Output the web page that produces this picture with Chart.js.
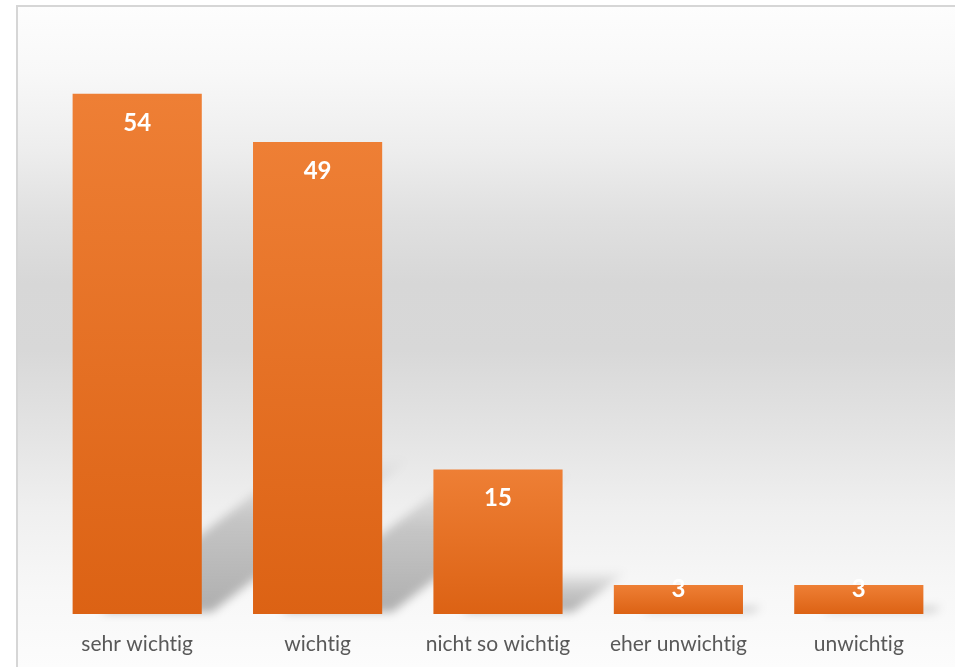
<!DOCTYPE html>
<html>
<head>
<meta charset="utf-8">
<script src="https://cdn.jsdelivr.net/npm/chart.js@4"></script>
<style>
  html, body { margin: 0; padding: 0; background: #ffffff; }
  #wrap { width: 955px; height: 667px; position: relative; }
</style>
</head>
<body>
<div id="wrap"><canvas id="c" width="955" height="667"></canvas></div>
<script>
const categories = ["sehr wichtig", "wichtig", "nicht so wichtig", "eher unwichtig", "unwichtig"];
const values = [54, 49, 15, 3, 3];
const yMin = 0;
const yMax = 60;

const backgroundPlugin = {
  id: 'bgPlugin',
  beforeDraw(chart) {
    const ctx = chart.ctx;
    const W = chart.width, H = chart.height;
    ctx.save();
    ctx.fillStyle = '#ffffff';
    ctx.fillRect(0, 0, W, H);
    const g = ctx.createLinearGradient(0, 6, 0, H);
    g.addColorStop(0.00, '#fdfdfd');
    g.addColorStop(0.10, '#f8f8f8');
    g.addColorStop(0.22, '#ededed');
    g.addColorStop(0.32, '#e0e0e0');
    g.addColorStop(0.42, '#d7d7d7');
    g.addColorStop(0.52, '#d8d8d8');
    g.addColorStop(0.64, '#e3e3e3');
    g.addColorStop(0.76, '#efefef');
    g.addColorStop(0.88, '#f7f7f7');
    g.addColorStop(1.00, '#fcfcfc');
    ctx.fillStyle = g;
    ctx.fillRect(18, 7, W - 18, H - 7);
    ctx.strokeStyle = '#d6d6d6';
    ctx.lineWidth = 2;
    ctx.beginPath();
    ctx.moveTo(17, H);
    ctx.lineTo(17, 6);
    ctx.lineTo(W, 6);
    ctx.stroke();
    ctx.restore();
    // avoid "ti" ligatures in tick labels
    if ('letterSpacing' in ctx) ctx.letterSpacing = '0.01px';
  }
};

const shadowPlugin = {
  id: 'shadowPlugin',
  beforeDatasetsDraw(chart) {
    const ctx = chart.ctx;
    const meta = chart.getDatasetMeta(0);
    ctx.save();
    ctx.filter = 'blur(5px)';
    meta.data.forEach((bar) => {
      const left = bar.x - bar.width / 2;
      const right = bar.x + bar.width / 2;
      const bottom = bar.base;
      const h = bottom - bar.y;
      const sh = h * 0.3;
      const dx = sh / 0.78;
      const g = ctx.createLinearGradient(0, bottom, 0, bottom - sh);
      g.addColorStop(0, 'rgba(0,0,0,0.30)');
      g.addColorStop(0.6, 'rgba(0,0,0,0.18)');
      g.addColorStop(1, 'rgba(0,0,0,0.0)');
      ctx.fillStyle = g;
      ctx.beginPath();
      ctx.moveTo(left + 28, bottom - 2);
      ctx.lineTo(right + 10, bottom - 2);
      ctx.lineTo(right + 10 + dx, bottom - sh);
      ctx.lineTo(left + 28 + dx, bottom - sh);
      ctx.closePath();
      ctx.fill();
    });
    ctx.restore();
  }
};

const labelPlugin = {
  id: 'labelPlugin',
  afterDatasetsDraw(chart) {
    const ctx = chart.ctx;
    const meta = chart.getDatasetMeta(0);
    ctx.save();
    ctx.fillStyle = '#ffffff';
    ctx.font = 'bold 24px Lato, "Open Sans", sans-serif';
    ctx.textAlign = 'center';
    ctx.textBaseline = 'middle';
    meta.data.forEach((bar, i) => {
      const h = bar.base - bar.y;
      const y = h > 60 ? bar.y + 29 : bar.y + 4;
      ctx.fillText(String(values[i]), bar.x, y);
    });
    ctx.restore();
  }
};

function barGradient(context) {
  const chart = context.chart;
  const ys = chart.scales && chart.scales.y;
  if (!ys || context.type !== 'data' || !chart.chartArea) return '#e67230';
  const top = ys.getPixelForValue(values[context.dataIndex]);
  const bottom = ys.getPixelForValue(0);
  if (!isFinite(top) || !isFinite(bottom) || top === bottom) return '#e67230';
  const g = chart.ctx.createLinearGradient(0, top, 0, bottom);
  g.addColorStop(0, '#ee7f35');
  g.addColorStop(1, '#dc6214');
  return g;
}

new Chart(document.getElementById('c'), {
  type: 'bar',
  data: {
    labels: categories,
    datasets: [{
      data: values,
      backgroundColor: barGradient,
      borderWidth: 0,
      barPercentage: 0.716,
      categoryPercentage: 1.0
    }]
  },
  options: {
    responsive: false,
    animation: false,
    devicePixelRatio: 1,
    layout: { padding: { left: 47, right: 6, top: 36, bottom: 0 } },
    plugins: {
      legend: { display: false },
      tooltip: { enabled: false }
    },
    scales: {
      x: {
        grid: { display: false, drawTicks: false },
        border: { display: false },
        ticks: {
          color: '#595959',
          font: { family: 'Lato, "Open Sans", sans-serif', size: 21 },
          padding: 18,
          maxRotation: 0,
          autoSkip: false
        },
        afterFit(scale) { scale.height = 53; }
      },
      y: {
        display: false,
        min: yMin,
        max: yMax
      }
    }
  },
  plugins: [backgroundPlugin, shadowPlugin, labelPlugin]
});
</script>
</body>
</html>
